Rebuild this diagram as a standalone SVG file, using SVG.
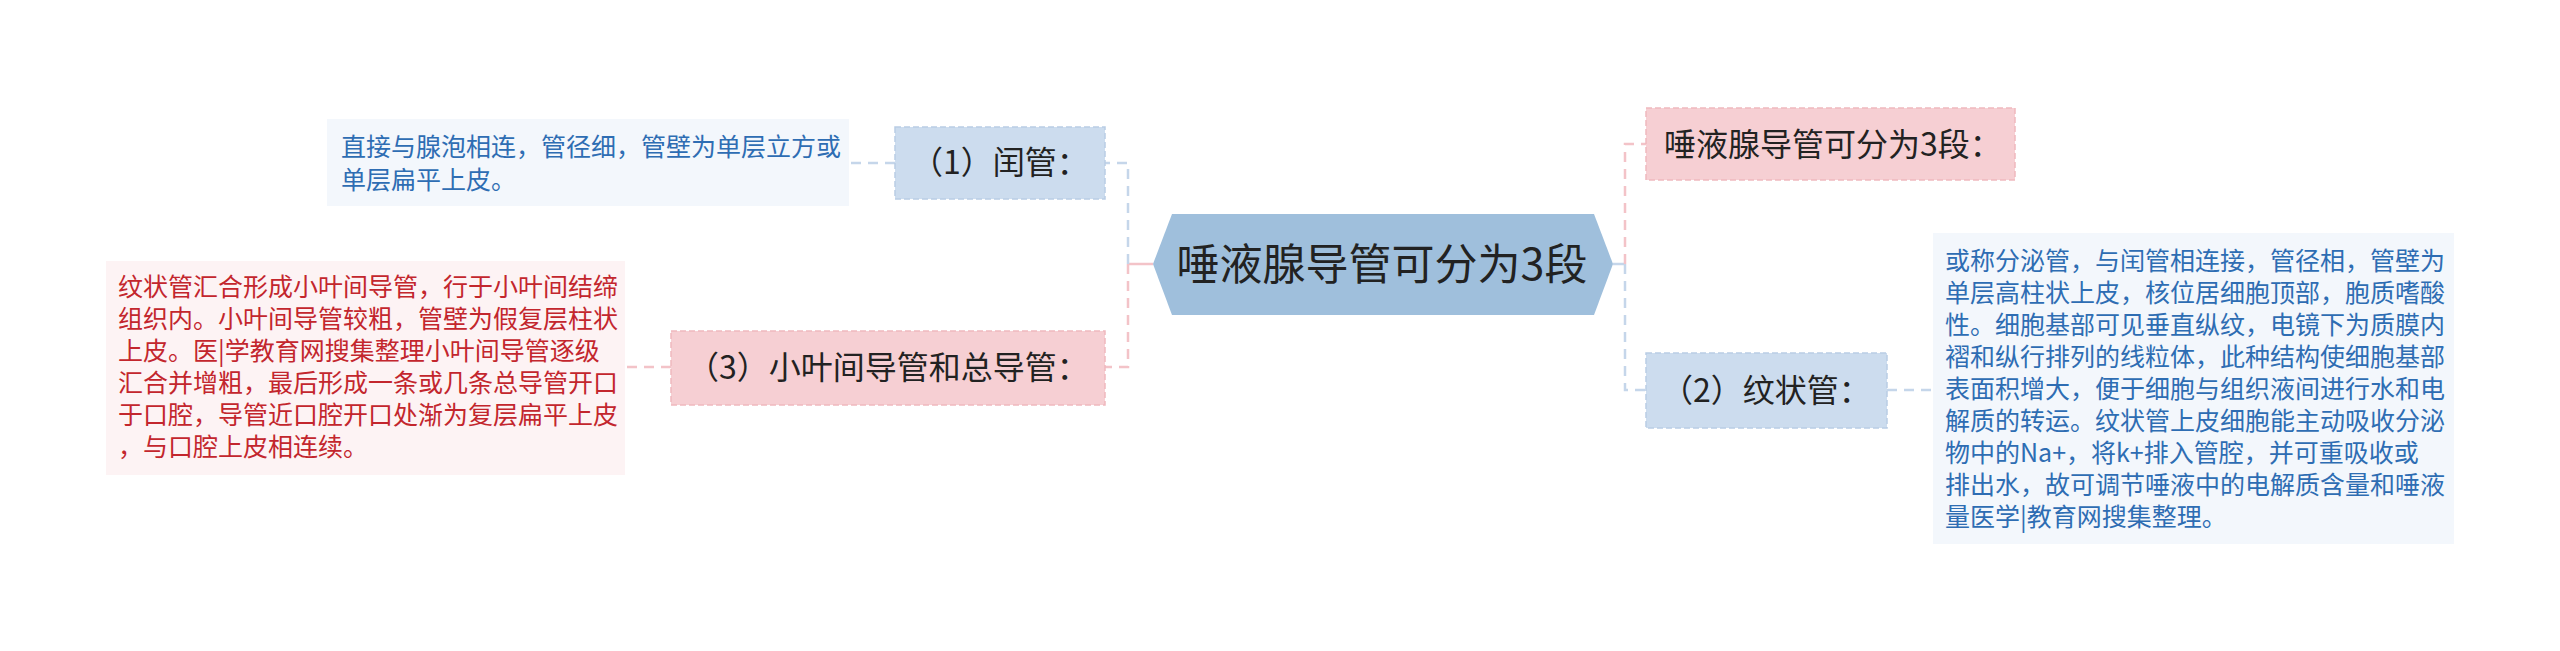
<svg xmlns="http://www.w3.org/2000/svg" width="2560" height="651" viewBox="0 0 2560 651">
<style>
text{font-family:"Noto Sans CJK SC","Noto Sans",sans-serif;}
.c{fill:none;stroke-width:2.5;stroke-dasharray:10 7;}
.cb{stroke:#c5d6ea;}
.cp{stroke:#f3c3c8;}
.nb{fill:#ccdcee;stroke:#b9cde5;stroke-width:1.5;stroke-dasharray:6 3;}
.np{fill:#f6cfd3;stroke:#efb9bf;stroke-width:1.5;stroke-dasharray:6 3;}
.nt{font-size:32px;fill:#222;}
.tb{fill:#f3f7fc;}
.tp{fill:#fdf3f4;}
.db{font-size:25px;fill:#2e6db3;}
.dp{font-size:25px;fill:#c3262d;}
</style>
<rect width="2560" height="651" fill="#ffffff"/>
<g id="connectors">
<line x1="1153" y1="264" x2="1128" y2="264" stroke="#f3c3c8" stroke-width="2.5"/>
<path class="c cb" d="M1128 264 V163 H1105"/>
<path class="c cp" d="M1128 264 V367 H1105"/>
<line x1="1613" y1="264" x2="1625" y2="264" stroke="#c5d6ea" stroke-width="2.5"/>
<path class="c cp" d="M1625 264 V144 H1646"/>
<path class="c cb" d="M1625 264 V390 H1646"/>
<line class="c cb" x1="895" y1="163" x2="849" y2="163"/>
<line class="c cp" x1="671" y1="367" x2="625" y2="367"/>
<line class="c cb" x1="1887" y1="390" x2="1933" y2="390"/>
</g>
<g id="root">
<polygon points="1153,264 1172,214 1594,214 1613,264 1594,315 1172,315" fill="#9fbfdc"/>
<text x="1382" y="280" font-size="43" fill="#222" text-anchor="middle">唾液腺导管可分为3段</text>
</g>
<g id="n1">
<rect class="nb" x="895" y="127" width="210" height="72"/>
<text class="nt" x="1000" y="174" text-anchor="middle">（1）闰管：</text>
</g>
<g id="d1">
<rect class="tb" x="327" y="119" width="522" height="87"/>
<text class="db" x="341" y="156">直接与腺泡相连，管径细，管壁为单层立方或</text>
<text class="db" x="341" y="189">单层扁平上皮。</text>
</g>
<g id="n3">
<rect class="np" x="671" y="331" width="434" height="74"/>
<text class="nt" x="888" y="379" text-anchor="middle">（3）小叶间导管和总导管：</text>
</g>
<g id="d3">
<rect class="tp" x="106" y="261" width="519" height="214"/>
<text class="dp" x="118" y="296">纹状管汇合形成小叶间导管，行于小叶间结缔</text>
<text class="dp" x="118" y="328">组织内。小叶间导管较粗，管壁为假复层柱状</text>
<text class="dp" x="118" y="360">上皮。医|学教育网搜集整理小叶间导管逐级</text>
<text class="dp" x="118" y="392">汇合并增粗，最后形成一条或几条总导管开口</text>
<text class="dp" x="118" y="424">于口腔，导管近口腔开口处渐为复层扁平上皮</text>
<text class="dp" x="118" y="456">，与口腔上皮相连续。</text>
</g>
<g id="n0">
<rect class="np" x="1646" y="108" width="369" height="72"/>
<text class="nt" x="1664" y="156">唾液腺导管可分为3段：</text>
</g>
<g id="n2">
<rect class="nb" x="1646" y="353" width="241" height="75"/>
<text class="nt" x="1766" y="402" text-anchor="middle">（2）纹状管：</text>
</g>
<g id="d2">
<rect class="tb" x="1933" y="233" width="521" height="311"/>
<text class="db" x="1945" y="270">或称分泌管，与闰管相连接，管径相，管壁为</text>
<text class="db" x="1945" y="302">单层高柱状上皮，核位居细胞顶部，胞质嗜酸</text>
<text class="db" x="1945" y="334">性。细胞基部可见垂直纵纹，电镜下为质膜内</text>
<text class="db" x="1945" y="366">褶和纵行排列的线粒体，此种结构使细胞基部</text>
<text class="db" x="1945" y="398">表面积增大，便于细胞与组织液间进行水和电</text>
<text class="db" x="1945" y="430">解质的转运。纹状管上皮细胞能主动吸收分泌</text>
<text class="db" x="1945" y="462">物中的Na+，将k+排入管腔，并可重吸收或</text>
<text class="db" x="1945" y="494">排出水，故可调节唾液中的电解质含量和唾液</text>
<text class="db" x="1945" y="526">量医学|教育网搜集整理。</text>
</g>
</svg>
